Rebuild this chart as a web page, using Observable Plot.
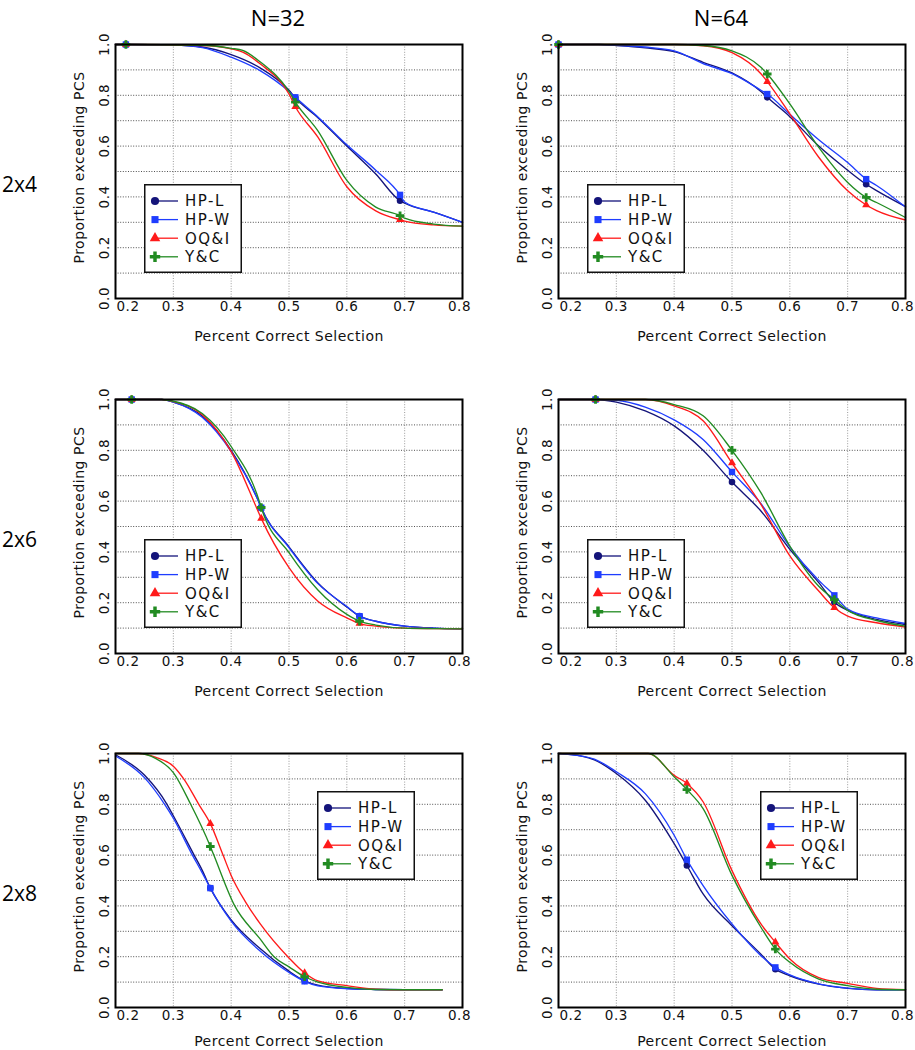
<!DOCTYPE html>
<html><head><meta charset="utf-8">
<script src="https://cdn.jsdelivr.net/npm/d3@7"></script>
<script src="https://cdn.jsdelivr.net/npm/@observablehq/plot@0.6"></script>
<style>
body{margin:0;background:#fff;}
#root{position:relative;width:915px;height:1050px;overflow:hidden;background:#fff;}
.pnl{position:absolute;}
.pnl svg text{letter-spacing:0.5px;}
.lab{position:absolute;font-family:"Open Sans",sans-serif;color:#000;white-space:nowrap;}
.leg{position:absolute;}
</style></head><body><div id="root"></div>
<script>
// ---- categories ----
const seriesNames = ["HP-L", "HP-W", "OQ&I", "Y&C"];
const columnTitles = ["N=32", "N=64"];
const rowTitles = ["2x4", "2x6", "2x8"];
const xTickValues = [0.2, 0.3, 0.4, 0.5, 0.6, 0.7, 0.8];
const yTickValues = [0.0, 0.2, 0.4, 0.6, 0.8, 1.0];
const yGridValues = [0.1, 0.2, 0.3, 0.4, 0.5, 0.6, 0.7, 0.8, 0.9];
const xLabel = "Percent Correct Selection";
const yLabel = "Proportion exceeding PCS";

// ---- N=32, 2x4 ----
const n32_2x4_markX = [0.218, 0.511, 0.692];
const n32_2x4_HPL = [[0.2,1],[0.218,1],[0.3,0.998],[0.35,0.99],[0.4,0.96],[0.45,0.908],[0.5,0.82],[0.511,0.79],[0.55,0.712],[0.6,0.6],[0.65,0.49],[0.692,0.385],[0.7,0.375],[0.75,0.34],[0.8,0.30]];
const n32_2x4_HPW = [[0.2,1],[0.218,1],[0.3,0.998],[0.35,0.988],[0.4,0.95],[0.45,0.897],[0.5,0.815],[0.511,0.792],[0.55,0.715],[0.6,0.605],[0.65,0.505],[0.692,0.408],[0.7,0.38],[0.75,0.34],[0.8,0.30]];
const n32_2x4_OQI = [[0.2,1],[0.218,1],[0.35,0.996],[0.4,0.983],[0.42,0.97],[0.45,0.924],[0.5,0.805],[0.511,0.755],[0.55,0.635],[0.6,0.44],[0.65,0.345],[0.692,0.31],[0.7,0.305],[0.75,0.29],[0.8,0.285]];
const n32_2x4_YC  = [[0.2,1],[0.218,1],[0.35,0.997],[0.4,0.985],[0.42,0.977],[0.45,0.932],[0.5,0.815],[0.511,0.773],[0.55,0.66],[0.6,0.465],[0.65,0.36],[0.692,0.326],[0.7,0.316],[0.75,0.293],[0.8,0.285]];

// ---- N=64, 2x4 ----
const n64_2x4_markX = [0.2, 0.561, 0.732];
const n64_2x4_HPL = [[0.2,1],[0.27,1],[0.3,0.996],[0.35,0.987],[0.4,0.972],[0.45,0.93],[0.5,0.888],[0.55,0.815],[0.561,0.792],[0.6,0.716],[0.65,0.6],[0.7,0.505],[0.732,0.45],[0.75,0.425],[0.8,0.362]];
const n64_2x4_HPW = [[0.2,1],[0.27,1],[0.3,0.997],[0.35,0.99],[0.4,0.975],[0.45,0.925],[0.5,0.885],[0.55,0.82],[0.561,0.805],[0.6,0.725],[0.65,0.625],[0.7,0.535],[0.732,0.47],[0.75,0.445],[0.8,0.36]];
const n64_2x4_OQI = [[0.2,1],[0.4,1],[0.45,0.995],[0.5,0.968],[0.55,0.885],[0.561,0.854],[0.6,0.727],[0.65,0.556],[0.7,0.424],[0.732,0.368],[0.75,0.346],[0.8,0.309]];
const n64_2x4_YC  = [[0.2,1],[0.4,1],[0.45,0.996],[0.5,0.975],[0.55,0.91],[0.561,0.884],[0.6,0.766],[0.65,0.595],[0.7,0.457],[0.732,0.398],[0.75,0.378],[0.8,0.319]];

// ---- N=32, 2x6 ----
const n32_2x6_markX = [0.228, 0.452, 0.622];
const n32_2x6_HPL = [[0.2,1],[0.228,1],[0.28,1],[0.3,0.99],[0.35,0.935],[0.4,0.8],[0.45,0.585],[0.452,0.574],[0.5,0.42],[0.55,0.278],[0.6,0.183],[0.622,0.147],[0.65,0.127],[0.7,0.108],[0.75,0.1],[0.8,0.097]];
const n32_2x6_HPW = [[0.2,1],[0.228,1],[0.28,1],[0.3,0.99],[0.35,0.93],[0.4,0.795],[0.45,0.585],[0.452,0.574],[0.5,0.417],[0.55,0.275],[0.6,0.185],[0.622,0.147],[0.65,0.127],[0.7,0.108],[0.75,0.1],[0.8,0.097]];
const n32_2x6_OQI = [[0.2,1],[0.228,1],[0.28,1],[0.3,0.992],[0.35,0.94],[0.4,0.795],[0.45,0.542],[0.452,0.532],[0.5,0.338],[0.55,0.206],[0.6,0.14],[0.622,0.118],[0.65,0.108],[0.7,0.1],[0.75,0.098],[0.8,0.097]];
const n32_2x6_YC  = [[0.2,1],[0.228,1],[0.28,1],[0.3,0.993],[0.35,0.945],[0.4,0.815],[0.45,0.59],[0.452,0.575],[0.5,0.397],[0.55,0.25],[0.6,0.154],[0.622,0.127],[0.65,0.112],[0.7,0.1],[0.75,0.098],[0.8,0.097]];

// ---- N=64, 2x6 ----
const n64_2x6_markX = [0.264, 0.5, 0.677];
const n64_2x6_HPL = [[0.2,1],[0.264,1],[0.3,0.99],[0.35,0.955],[0.4,0.896],[0.45,0.8],[0.5,0.675],[0.55,0.561],[0.6,0.41],[0.65,0.279],[0.677,0.202],[0.7,0.17],[0.75,0.134],[0.8,0.114]];
const n64_2x6_HPW = [[0.2,1],[0.264,1],[0.3,0.997],[0.35,0.97],[0.4,0.92],[0.45,0.843],[0.5,0.715],[0.55,0.59],[0.6,0.42],[0.65,0.288],[0.677,0.229],[0.7,0.175],[0.75,0.14],[0.8,0.118]];
const n64_2x6_OQI = [[0.2,1],[0.264,1],[0.35,1],[0.4,0.975],[0.45,0.916],[0.5,0.75],[0.55,0.587],[0.6,0.384],[0.65,0.246],[0.677,0.18],[0.7,0.147],[0.75,0.121],[0.8,0.104]];
const n64_2x6_YC  = [[0.2,1],[0.264,1],[0.35,1],[0.4,0.98],[0.45,0.936],[0.5,0.8],[0.55,0.633],[0.6,0.423],[0.65,0.265],[0.677,0.212],[0.7,0.17],[0.75,0.13],[0.8,0.108]];

// ---- N=32, 2x8 ----
const n32_2x8_markX = [0.364, 0.527];
const n32_2x8_HPL = [[0.2,0.995],[0.25,0.915],[0.289,0.8],[0.3,0.755],[0.336,0.6],[0.35,0.54],[0.364,0.47],[0.4,0.345],[0.45,0.232],[0.5,0.143],[0.527,0.105],[0.55,0.088],[0.6,0.075],[0.65,0.071],[0.7,0.07],[0.765,0.07]];
const n32_2x8_HPW = [[0.2,0.99],[0.25,0.905],[0.285,0.8],[0.3,0.745],[0.333,0.6],[0.35,0.53],[0.364,0.47],[0.4,0.34],[0.45,0.222],[0.5,0.138],[0.527,0.103],[0.55,0.085],[0.6,0.074],[0.65,0.071],[0.7,0.07],[0.765,0.07]];
const n32_2x8_OQI = [[0.2,1],[0.24,1],[0.27,0.985],[0.3,0.95],[0.318,0.9],[0.344,0.8],[0.364,0.724],[0.386,0.6],[0.4,0.52],[0.425,0.415],[0.45,0.33],[0.5,0.195],[0.527,0.136],[0.55,0.105],[0.6,0.086],[0.65,0.072],[0.7,0.07],[0.765,0.07]];
const n32_2x8_YC  = [[0.2,1],[0.24,1],[0.27,0.98],[0.3,0.925],[0.33,0.8],[0.364,0.634],[0.37,0.6],[0.405,0.405],[0.45,0.27],[0.474,0.2],[0.5,0.16],[0.527,0.121],[0.55,0.1],[0.6,0.079],[0.65,0.071],[0.7,0.07],[0.765,0.07]];

// ---- N=64, 2x8 ----
const n64_2x8_markX = [0.422, 0.575];
const n64_2x8_HPL = [[0.2,1],[0.24,0.99],[0.262,0.975],[0.3,0.921],[0.35,0.816],[0.4,0.645],[0.422,0.559],[0.45,0.447],[0.5,0.322],[0.55,0.21],[0.575,0.151],[0.6,0.125],[0.65,0.092],[0.7,0.075],[0.75,0.07],[0.8,0.07]];
const n64_2x8_HPW = [[0.2,1],[0.24,0.99],[0.262,0.978],[0.3,0.928],[0.35,0.842],[0.4,0.678],[0.422,0.582],[0.45,0.48],[0.5,0.329],[0.55,0.204],[0.575,0.158],[0.6,0.128],[0.65,0.093],[0.7,0.076],[0.75,0.07],[0.8,0.07]];
const n64_2x8_OQI = [[0.2,1],[0.355,1],[0.4,0.914],[0.422,0.882],[0.45,0.81],[0.5,0.539],[0.55,0.329],[0.575,0.257],[0.6,0.191],[0.65,0.118],[0.7,0.095],[0.75,0.075],[0.8,0.07]];
const n64_2x8_YC  = [[0.2,1],[0.355,1],[0.4,0.908],[0.422,0.858],[0.45,0.783],[0.5,0.52],[0.55,0.316],[0.575,0.23],[0.6,0.178],[0.65,0.112],[0.7,0.086],[0.75,0.072],[0.8,0.07]];

// ---- styles ----
const seriesColors = ["#14147a", "#1f3dff", "#ff1a1a", "#228b22"];
const seriesSymbols = ["circle", "square", "triangle", "cross"];

const panels = [
  {col:0,row:0,lines:[n32_2x4_HPL,n32_2x4_HPW,n32_2x4_OQI,n32_2x4_YC],mark:n32_2x4_markX,leg:"low"},
  {col:1,row:0,lines:[n64_2x4_HPL,n64_2x4_HPW,n64_2x4_OQI,n64_2x4_YC],mark:n64_2x4_markX,leg:"low"},
  {col:0,row:1,lines:[n32_2x6_HPL,n32_2x6_HPW,n32_2x6_OQI,n32_2x6_YC],mark:n32_2x6_markX,leg:"low"},
  {col:1,row:1,lines:[n64_2x6_HPL,n64_2x6_HPW,n64_2x6_OQI,n64_2x6_YC],mark:n64_2x6_markX,leg:"low"},
  {col:0,row:2,lines:[n32_2x8_HPL,n32_2x8_HPW,n32_2x8_OQI,n32_2x8_YC],mark:n32_2x8_markX,leg:"high"},
  {col:1,row:2,lines:[n64_2x8_HPL,n64_2x8_HPW,n64_2x8_OQI,n64_2x8_YC],mark:n64_2x8_markX,leg:"high"}
];

const plotLefts = [115, 558];
const plotTops = [44, 399, 753];
const mL = 55, mR = 8, mT = 8, mB = 48, W = 410, H = 310;
const root = document.getElementById("root");

function makePanel(p) {
  const marks = [
    Plot.gridX(xTickValues, {stroke: "#9a9a9a", strokeOpacity: 1, strokeDasharray: "1,1.6"}),
    Plot.gridY(yGridValues, {stroke: "#505050", strokeOpacity: 1, strokeDasharray: "1,1.6"})
  ];
  p.lines.forEach((pts, i) => {
    const rows = pts.map(([x, y]) => ({x, y}));
    marks.push(Plot.line(rows, {x: "x", y: "y", stroke: seriesColors[i], strokeWidth: 1.35, curve: "monotone-x"}));
    marks.push(Plot.dot(rows.filter(d => p.mark.includes(d.x)), {
      x: "x", y: "y", symbol: seriesSymbols[i], fill: seriesColors[i], stroke: "none",
      r: i === 0 ? 3.3 : (i === 2 ? 3.0 : 3.6)
    }));
  });
  marks.push(Plot.frame({stroke: "#000", strokeWidth: 2}));
  const fnt = {fontFamily: "DejaVu Sans", fontSize: 13.5, fill: "#111", lineAnchor: "middle"};
  const titleDy = p.row === 2 ? 34 : 38;
  marks.push(Plot.text(xTickValues.slice(1, -1), {x: d => d, frameAnchor: "bottom", dy: 8, textAnchor: "middle", text: d => d.toFixed(1), ...fnt}));
  marks.push(Plot.text(xTickValues.slice(0, 1), {x: d => d, frameAnchor: "bottom", dy: 8, dx: 1, textAnchor: "start", text: d => d.toFixed(1), ...fnt}));
  marks.push(Plot.text(xTickValues.slice(-1), {x: d => d, frameAnchor: "bottom", dy: 8, dx: -3, textAnchor: "middle", text: d => d.toFixed(1), ...fnt}));
  marks.push(Plot.text(yTickValues, {y: d => d, frameAnchor: "left", dx: -11, rotate: -90, textAnchor: "middle", text: d => d.toFixed(1), ...fnt}));
  marks.push(Plot.text([xLabel], {frameAnchor: "bottom", dy: titleDy, textAnchor: "middle", lineAnchor: "middle", text: d => d, fontFamily: "DejaVu Sans", fontSize: 14, fill: "#111"}));
  marks.push(Plot.text([yLabel], {frameAnchor: "left", dx: -36, dy: -4, rotate: -90, textAnchor: "middle", lineAnchor: "middle", text: d => d, fontFamily: "DejaVu Sans", fontSize: 14, fill: "#111"}));
  const svg = Plot.plot({
    width: W, height: H, marginLeft: mL, marginRight: mR, marginTop: mT, marginBottom: mB,
    x: {domain: [0.2, 0.8], axis: null},
    y: {domain: [0, 1], axis: null},
    style: {background: "transparent", overflow: "visible"},
    marks
  });
  const div = document.createElement("div");
  div.className = "pnl";
  div.style.left = (plotLefts[p.col] - mL) + "px";
  div.style.top = (plotTops[p.row] - mT) + "px";
  div.appendChild(svg);
  root.appendChild(div);

  // legend
  const lx = plotLefts[p.col] + (p.leg === "low" ? 28.5 : 202);
  const ly = plotTops[p.row] + (p.leg === "low" ? 140 : 37.5);
  const lg = d3.create("svg").attr("width", 98).attr("height", 90)
    .attr("class", "leg").style("left", lx + "px").style("top", ly + "px").style("overflow", "visible");
  lg.append("rect").attr("x", 0.75).attr("y", 0.75).attr("width", 96.5).attr("height", 87.5)
    .attr("fill", "#fff").attr("stroke", "#111").attr("stroke-width", 1.5);
  const sym = [d3.symbolCircle, d3.symbolSquare, d3.symbolTriangle, d3.symbolCross];
  const sz = [52, 50, 48, 60];
  seriesNames.forEach((s, i) => {
    const yy = 17 + i * 18.6;
    lg.append("line").attr("x1", 11).attr("x2", 34).attr("y1", yy).attr("y2", yy)
      .attr("stroke", seriesColors[i]).attr("stroke-width", 1.3);
    lg.append("path").attr("d", d3.symbol(sym[i], sz[i])()).attr("transform", `translate(11,${yy})`)
      .attr("fill", seriesColors[i]);
    lg.append("text").attr("x", 41).attr("y", yy).attr("dy", "0.36em").text(s)
      .attr("font-family", "DejaVu Sans").attr("font-size", 15).attr("letter-spacing", "1.5px").attr("fill", "#111");
  });
  root.appendChild(lg.node());
}
panels.forEach(makePanel);

// column and row titles
columnTitles.forEach((t, i) => {
  const d = document.createElement("div");
  d.className = "lab"; d.textContent = t;
  d.style.fontSize = "22px"; d.style.top = "2px";
  d.style.left = (plotLefts[i] + 163) + "px"; d.style.transform = "translateX(-50%)";
  root.appendChild(d);
});
rowTitles.forEach((t, i) => {
  const d = document.createElement("div");
  d.className = "lab"; d.textContent = t;
  d.style.fontSize = "21px"; d.style.left = "2px";
  d.style.top = (plotTops[i] + 140) + "px";
  d.style.transform = "translateY(-50%)";
  root.appendChild(d);
});
</script></body></html>
